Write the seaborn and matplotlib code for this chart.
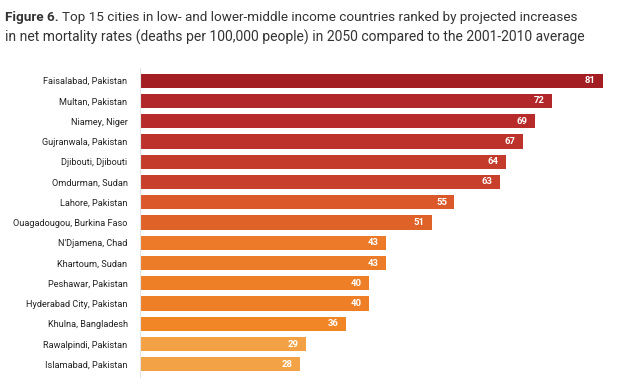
import numpy as np
import pandas as pd
import seaborn as sns
import matplotlib.pyplot as plt

# ---------- data ----------
cities = [
    "Faisalabad, Pakistan", "Multan, Pakistan", "Niamey, Niger",
    "Gujranwala, Pakistan", "Djibouti, Djibouti", "Omdurman, Sudan",
    "Lahore, Pakistan", "Ouagadougou, Burkina Faso", "N'Djamena, Chad",
    "Khartoum, Sudan", "Peshawar, Pakistan", "Hyderabad City, Pakistan",
    "Khulna, Bangladesh", "Rawalpindi, Pakistan", "Islamabad, Pakistan",
]
increase = [81, 72, 69, 67, 64, 63, 55, 51, 43, 43, 40, 40, 36, 29, 28]
bar_colors = [
    "#A21E23", "#B1272A", "#B72C2B", "#BD322B", "#C43A2B", "#C8402B",
    "#DA582A", "#DF6229", "#EC7A28", "#ED7C28", "#EE7F27", "#EE7F27",
    "#F08626", "#F4A044", "#F4A246",
]

df = pd.DataFrame({"city": cities, "value": increase})

sns.set_style("white")
plt.rcParams["font.family"] = ["Roboto", "DejaVu Sans"]

fig = plt.figure(figsize=(6.25, 3.89), dpi=100)
ax = fig.add_axes([0.224, 0.032, 0.741, 0.792])

sns.barplot(data=df, x="value", y="city", hue="city", palette=bar_colors,
            legend=False, width=0.7, saturation=1, ax=ax, edgecolor="none")

for p, v in zip(ax.patches, increase):
    y = p.get_y() + p.get_height() / 2
    ax.text(v - 1.3, y, str(v), ha="right", va="center",
            color="white", fontsize=6.8, fontweight="bold")

ax.set_xlim(0, 81)
ax.set_ylim(14.6, -0.6)
ax.set_xlabel("")
ax.set_ylabel("")
ax.set_xticks([])
ax.tick_params(axis="y", length=0, pad=9, labelsize=6.6, labelcolor="#222222")
for s in ["top", "right", "bottom"]:
    ax.spines[s].set_visible(False)
ax.spines["left"].set_color("#E4E4E4")
ax.spines["left"].set_linewidth(0.8)

# title: bold lead-in, then the rest placed right after it
lead = fig.text(0.008, 0.955, "Figure 6.", fontsize=9.7, fontweight="bold",
                color="#333333", va="center")
fig.canvas.draw()
bb = lead.get_window_extent(fig.canvas.get_renderer())
x_next = (bb.x1 + 3) / fig.bbox.width
fig.text(x_next, 0.955, "Top 15 cities in low- and lower-middle income countries ranked by projected increases",
         fontsize=9.7, color="#333333", va="center")
fig.text(0.008, 0.905, "in net mortality rates (deaths per 100,000 people) in 2050 compared to the 2001-2010 average",
         fontsize=10, color="#333333", va="center")

fig.savefig("out.png", dpi=100)
